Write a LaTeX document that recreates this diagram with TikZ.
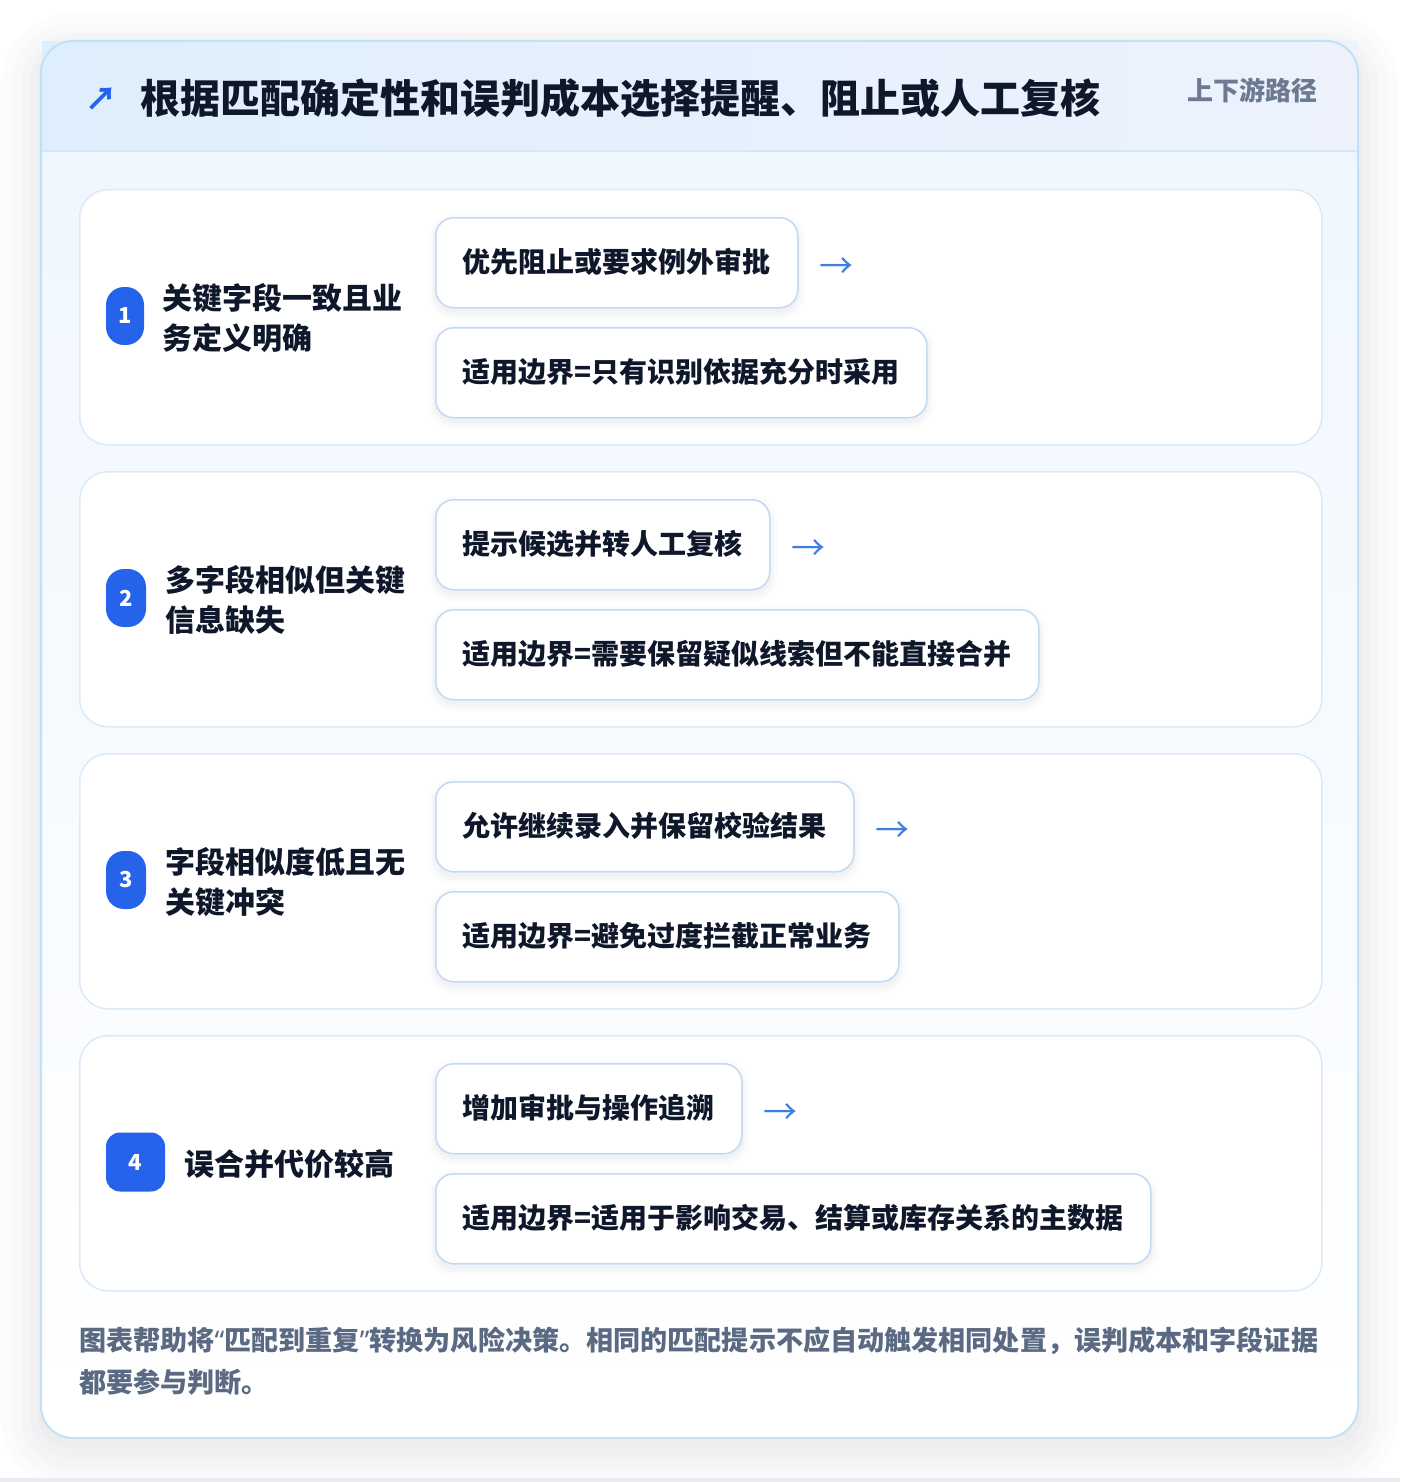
\documentclass[tikz,border=0pt]{standalone}
\usepackage{fontspec}
\setmainfont{Noto Sans CJK SC}
\newfontfamily\latq{Noto Sans}
\usetikzlibrary{positioning,calc}
\definecolor{titleC}{HTML}{0F172A}
\definecolor{footC}{HTML}{5A6A82}
\definecolor{grayT}{HTML}{6B7A90}
\definecolor{badgeC}{HTML}{2563EB}
\definecolor{arrowC}{HTML}{3D7FE3}
\definecolor{boxB}{HTML}{C2D8F6}
\definecolor{panelB}{HTML}{DCE9F7}
\definecolor{cardB}{HTML}{BFE2F6}
\definecolor{headL}{HTML}{DFEEFC}
\definecolor{headR}{HTML}{EDF2FD}
\definecolor{bodyTop}{HTML}{EEF6FE}
\definecolor{headLine}{HTML}{D3E7F8}
\definecolor{bandG}{HTML}{E9EBEF}
\definecolor{shadowC}{HTML}{1E293B}
\tikzset{
  softshadow/.style={
    preaction={draw=shadowC, draw opacity=0.012, line width=16pt, transform canvas={yshift=-4pt}},
    preaction={draw=shadowC, draw opacity=0.018, line width=9pt, transform canvas={yshift=-4pt}},
    preaction={draw=shadowC, draw opacity=0.022, line width=4pt, transform canvas={yshift=-3pt}}},
  cardshadow/.style={
    preaction={draw=shadowC, draw opacity=0.010, line width=80pt, transform canvas={yshift=-12pt}},
    preaction={draw=shadowC, draw opacity=0.012, line width=60pt, transform canvas={yshift=-12pt}},
    preaction={draw=shadowC, draw opacity=0.014, line width=40pt, transform canvas={yshift=-12pt}},
    preaction={draw=shadowC, draw opacity=0.016, line width=22pt, transform canvas={yshift=-10pt}},
    preaction={draw=shadowC, draw opacity=0.018, line width=8pt, transform canvas={yshift=-6pt}}},
  panel/.style={fill=white, draw=panelB, line width=1.5pt, rounded corners=28pt,
    minimum width=1242pt, minimum height=255pt, anchor=north west, inner sep=0pt},
  badge/.style={fill=badgeC, text=white, font=\bfseries\fontsize{22}{22}\selectfont,
    minimum height=58pt, rounded corners=18pt, inner sep=0pt},
  lbl/.style={font=\bfseries\fontsize{30}{40}\selectfont, text=titleC, align=left,
    inner sep=0pt, anchor=west},
  abox/.style={fill=white, draw=boxB, line width=1.5pt, rounded corners=18pt,
    minimum height=90pt, inner xsep=27pt, inner ysep=0pt, anchor=north west,
    text height=24pt, text depth=4pt,
    font=\bfseries\fontsize{28}{28}\selectfont, text=titleC, softshadow},
  arr/.style={font=\fontsize{34}{34}\selectfont, text=arrowC, inner sep=0pt}
}
\begin{document}
\begin{tikzpicture}[x=1pt,y=-1pt]
\useasboundingbox (0,0) rectangle (1400,1482);
\fill[white] (0,0) rectangle (1400,1482);
% card with shadow
\path[fill=white, rounded corners=32pt, cardshadow] (41,41) rectangle (1358,1438);
\fill[bandG] (0,1478) rectangle (1400,1482);
\shade[top color=bodyTop, bottom color=white, rounded corners=32pt] (41,41) rectangle (1358,1438);
\fill[left color=headL, right color=headR] (42,42) rectangle (1357,151);
\draw[headLine, line width=1.5pt] (42,151) -- (1357,151);
\draw[cardB, line width=2pt, rounded corners=32pt] (41,41) rectangle (1358,1438);
% header
\node[font=\bfseries\fontsize{32}{32}\selectfont, text=badgeC, inner sep=0pt] (icon) at (101,99) {↗};
\node[anchor=west, font=\bfseries\fontsize{40}{40}\selectfont, text=titleC, inner sep=0pt] (title) at (140,98) {根据匹配确定性和误判成本选择提醒、阻止或人工复核};
\node[anchor=east, font=\bfseries\fontsize{26}{26}\selectfont, text=grayT, inner sep=0pt] (tag) at (1318,90) {上下游路径};
% row 1
\node[panel] (p1) at (79,189) {};
\node[badge, minimum width=38pt] (b1) at (125,316) {1};
\node[lbl] (l1) at (162,318) {关键字段一致且业\\务定义明确};
\node[abox] (a1) at (435,217) {优先阻止或要求例外审批};
\node[abox] (c1) at (435,327) {适用边界=只有识别依据充分时采用};
\node[arr] (r1) at ($(a1.east)+(38,5)$) {→};
% row 2
\node[panel] (p2) at (79,471) {};
\node[badge, minimum width=40pt] (b2) at (126,598) {2};
\node[lbl] (l2) at (165,600) {多字段相似但关键\\信息缺失};
\node[abox] (a2) at (435,499) {提示候选并转人工复核};
\node[abox] (c2) at (435,609) {适用边界=需要保留疑似线索但不能直接合并};
\node[arr] (r2) at ($(a2.east)+(38,5)$) {→};
% row 3
\node[panel] (p3) at (79,753) {};
\node[badge, minimum width=40pt] (b3) at (126,880) {3};
\node[lbl] (l3) at (165,882) {字段相似度低且无\\关键冲突};
\node[abox] (a3) at (435,781) {允许继续录入并保留校验结果};
\node[abox] (c3) at (435,891) {适用边界=避免过度拦截正常业务};
\node[arr] (r3) at ($(a3.east)+(38,5)$) {→};
% row 4
\node[panel] (p4) at (79,1035) {};
\node[badge, minimum width=59pt, minimum height=59pt, rounded corners=14pt] (b4) at (135.5,1162) {4};
\node[lbl] (l4) at (184,1164) {误合并代价较高};
\node[abox] (a4) at (435,1063) {增加审批与操作追溯};
\node[abox] (c4) at (435,1173) {适用边界=适用于影响交易、结算或库存关系的主数据};
\node[arr] (r4) at ($(a4.east)+(38,5)$) {→};
% footer
\node[anchor=north west, align=left, font=\bfseries\fontsize{27.1}{42}\selectfont, text=footC, inner sep=0pt] (foot) at (79,1327)
  {图表帮助将{\latq “}匹配到重复{\latq ”}转换为风险决策。相同的匹配提示不应自动触发相同处置，误判成本和字段证据\\都要参与判断。};
\end{tikzpicture}
\end{document}
